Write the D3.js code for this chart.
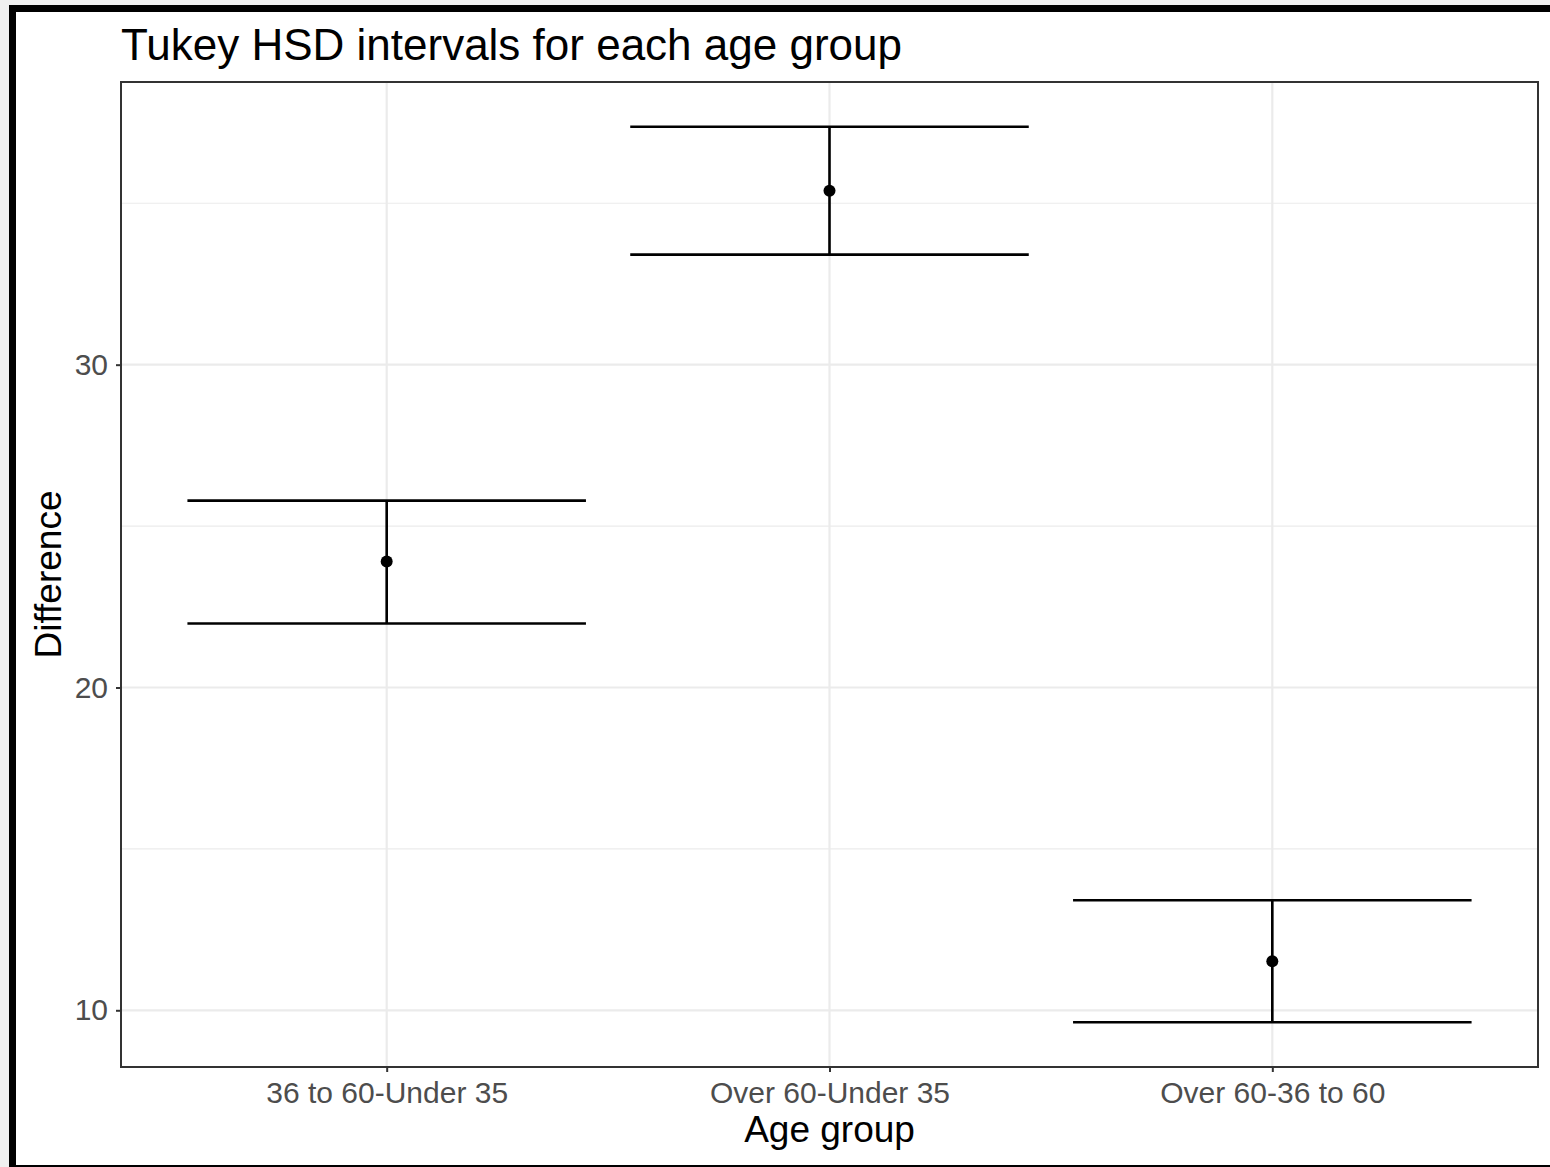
<!DOCTYPE html>
<html>
<head>
<meta charset="utf-8">
<script src="https://cdn.jsdelivr.net/npm/d3@7"></script>
<style>
  body { margin: 0; background: #f0f0f0; }
  svg { display: block; }
  text { font-family: "Liberation Sans", Arial, sans-serif; }
</style>
</head>
<body>
<script>
// Tukey HSD values
var groups = ["36 to 60-Under 35", "Over 60-Under 35", "Over 60-36 to 60"];
var diffs = [23.90, 35.39, 11.52];
var lowers = [21.98, 33.41, 9.63];
var uppers = [25.79, 37.37, 13.41];
var yTicks = [10, 20, 30];
var yMinor = [15, 25, 35];

var width = 1550, height = 1167;
var margin = {left: 121, top: 82, right: 12, bottom: 100};

var svg = d3.select("body").append("svg")
    .attr("width", width)
    .attr("height", height);

// window frame
svg.append("rect").attr("x", 9).attr("y", 5).attr("width", width).attr("height", 1162).attr("fill", "black");
svg.append("rect").attr("x", 16).attr("y", 12).attr("width", width).attr("height", 1153).attr("fill", "white");

var x0 = margin.left, x1 = 1538, y0 = 1067, y1 = margin.top;

// ggplot-style expansion
var lo = d3.min(lowers), hi = d3.max(uppers), pad = (hi - lo) * 0.05;
var yScale = d3.scaleLinear().domain([lo - pad, hi + pad]).range([y0, y1]);
var xScale = d3.scaleLinear().domain([0.4, groups.length + 0.6]).range([x0, x1]);
var barHalf = 0.45;

var g = svg.append("g");

// grid
g.selectAll(".minor").data(yMinor).enter().append("line")
    .attr("x1", x0).attr("x2", x1)
    .attr("y1", function(d){ return yScale(d); }).attr("y2", function(d){ return yScale(d); })
    .attr("stroke", "#ebebeb").attr("stroke-width", 1.1);
g.selectAll(".major").data(yTicks).enter().append("line")
    .attr("x1", x0).attr("x2", x1)
    .attr("y1", function(d){ return yScale(d); }).attr("y2", function(d){ return yScale(d); })
    .attr("stroke", "#ebebeb").attr("stroke-width", 2.2);
g.selectAll(".vmajor").data(groups).enter().append("line")
    .attr("x1", function(d, i){ return xScale(i + 1); }).attr("x2", function(d, i){ return xScale(i + 1); })
    .attr("y1", y1).attr("y2", y0)
    .attr("stroke", "#ebebeb").attr("stroke-width", 2.2);

// error bars
var bars = g.selectAll(".bar").data(groups).enter().append("g");
bars.append("line")
    .attr("x1", function(d, i){ return xScale(i + 1); }).attr("x2", function(d, i){ return xScale(i + 1); })
    .attr("y1", function(d, i){ return yScale(uppers[i]); }).attr("y2", function(d, i){ return yScale(lowers[i]); })
    .attr("stroke", "black").attr("stroke-width", 2.6);
bars.append("line")
    .attr("x1", function(d, i){ return xScale(i + 1 - barHalf); }).attr("x2", function(d, i){ return xScale(i + 1 + barHalf); })
    .attr("y1", function(d, i){ return yScale(uppers[i]); }).attr("y2", function(d, i){ return yScale(uppers[i]); })
    .attr("stroke", "black").attr("stroke-width", 2.6);
bars.append("line")
    .attr("x1", function(d, i){ return xScale(i + 1 - barHalf); }).attr("x2", function(d, i){ return xScale(i + 1 + barHalf); })
    .attr("y1", function(d, i){ return yScale(lowers[i]); }).attr("y2", function(d, i){ return yScale(lowers[i]); })
    .attr("stroke", "black").attr("stroke-width", 2.6);
bars.append("circle")
    .attr("cx", function(d, i){ return xScale(i + 1); })
    .attr("cy", function(d, i){ return yScale(diffs[i]); })
    .attr("r", 6).attr("fill", "black");

// panel border
g.append("rect").attr("x", x0).attr("y", y1).attr("width", x1 - x0).attr("height", y0 - y1)
    .attr("fill", "none").attr("stroke", "#333333").attr("stroke-width", 2);

// y axis
var yAxis = svg.append("g").attr("transform", "translate(" + x0 + ",0)")
    .call(d3.axisLeft(yScale).tickValues(yTicks).tickSize(5).tickPadding(8));
yAxis.select(".domain").remove();
yAxis.selectAll(".tick line").attr("stroke", "#333333").attr("stroke-width", 2);
yAxis.selectAll(".tick text").attr("fill", "#4d4d4d").attr("font-size", 30)
    .style("font-family", "Liberation Sans, Arial, sans-serif");

// x axis
var xAxis = svg.append("g").attr("transform", "translate(0," + y0 + ")")
    .call(d3.axisBottom(xScale).tickValues([1, 2, 3]).tickFormat(function(d){ return groups[d - 1]; })
        .tickSize(5).tickPadding(6));
xAxis.select(".domain").remove();
xAxis.selectAll(".tick line").attr("stroke", "#333333").attr("stroke-width", 2);
xAxis.selectAll(".tick text").attr("fill", "#4d4d4d").attr("font-size", 30)
    .attr("dy", null).attr("y", 36)
    .style("font-family", "Liberation Sans, Arial, sans-serif");

// titles
svg.append("text").attr("x", x0).attr("y", 60).attr("font-size", 44).attr("fill", "black")
    .text("Tukey HSD intervals for each age group");
svg.append("text").attr("x", (x0 + x1) / 2).attr("y", 1142).attr("text-anchor", "middle")
    .attr("font-size", 37).attr("fill", "black").text("Age group");
svg.append("text").attr("transform", "translate(61," + (y0 + y1) / 2 + ") rotate(-90)")
    .attr("text-anchor", "middle").attr("font-size", 37).attr("fill", "black").text("Difference");
</script>
</body>
</html>
